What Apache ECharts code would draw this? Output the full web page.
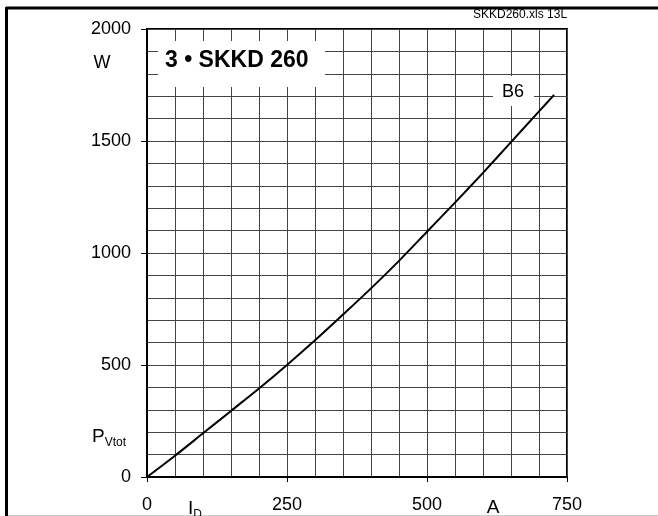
<!DOCTYPE html>
<html>
<head>
<meta charset="utf-8">
<script src="https://cdn.jsdelivr.net/npm/echarts@6/dist/echarts.min.js"></script>
<style>
html,body{margin:0;padding:0;background:#fff;}
#chart{width:658px;height:516px;}
</style>
</head>
<body>
<div id="chart"></div>
<script>
// Data
var currentA = [0, 50, 100, 150, 200, 250, 300, 350, 400, 450, 500, 550, 600, 650, 700, 727];
var powerW   = [0, 95, 195, 295, 395, 500, 610, 725, 842, 965, 1095, 1225, 1358, 1495, 1632, 1706];
var seriesName = 'B6';
var xTicks = [0, 250, 500, 750];
var yTicks = [0, 500, 1000, 1500, 2000];

var FONT = '"Liberation Sans", Arial, sans-serif';
var chart = echarts.init(document.getElementById('chart'), null, {renderer: 'canvas'});

var points = currentA.map(function (a, i) { return [a, powerW[i]]; });
function plain(v) { return String(v); }

chart.setOption({
  animation: false,
  backgroundColor: '#fff',
  grid: {
    left: 147, top: 29, width: 420, height: 448,
    show: true, borderColor: '#000', borderWidth: 2, backgroundColor: 'transparent'
  },
  xAxis: {
    type: 'value',
    min: xTicks[0], max: xTicks[xTicks.length - 1], interval: 250,
    axisLine: {show: true, lineStyle: {color: '#000', width: 2}},
    axisTick: {show: true, inside: false, length: 5, lineStyle: {color: '#000', width: 1}},
    axisLabel: {color: '#000', fontFamily: FONT, fontSize: 18, margin: 19, formatter: plain},
    splitLine: {show: true, lineStyle: {color: '#444', width: 1}},
    minorTick: {show: false, splitNumber: 5},
    minorSplitLine: {show: true, lineStyle: {color: '#444', width: 1}}
  },
  yAxis: {
    type: 'value',
    min: yTicks[0], max: yTicks[yTicks.length - 1], interval: 500,
    axisLine: {show: true, lineStyle: {color: '#000', width: 2}},
    axisTick: {show: true, inside: false, length: 6, lineStyle: {color: '#000', width: 1}},
    axisLabel: {color: '#000', fontFamily: FONT, fontSize: 18, margin: 16, formatter: plain},
    splitLine: {show: true, lineStyle: {color: '#444', width: 1}},
    minorTick: {show: false, splitNumber: 5},
    minorSplitLine: {show: true, lineStyle: {color: '#444', width: 1}}
  },
  series: [{
    name: seriesName,
    type: 'line',
    data: points,
    smooth: 0.3,
    showSymbol: false,
    lineStyle: {color: '#000', width: 2},
    z: 5
  }],
  graphic: [
    // outer frame
    {type: 'line', z: 100, shape: {x1: 6, y1: 8, x2: 658, y2: 8}, style: {stroke: '#000', lineWidth: 3}},
    {type: 'line', z: 100, shape: {x1: 6.5, y1: 7, x2: 6.5, y2: 516}, style: {stroke: '#000', lineWidth: 3}},
    {type: 'line', z: 100, shape: {x1: 8, y1: 515.5, x2: 658, y2: 515.5}, style: {stroke: '#ccc', lineWidth: 1}},
    // file tag
    {type: 'text', z: 100, left: 473, top: 9, style: {text: 'SKKD260.xls 13L', fill: '#000', font: '12px ' + FONT}},
    // title box
    {type: 'rect', z: 100, shape: {x: 158, y: 41, width: 167, height: 46}, style: {fill: '#fff'}},
    {type: 'text', z: 101, x: 165, y: 61, style: {text: '3 \u2022 SKKD 260', fill: '#000', font: 'bold 23px ' + FONT, textVerticalAlign: 'middle'}},
    // B6 label
    {type: 'rect', z: 100, shape: {x: 493, y: 76, width: 41, height: 30}, style: {fill: '#fff'}},
    {type: 'text', z: 101, x: 513, y: 92, style: {text: seriesName, fill: '#000', font: '18px ' + FONT, textAlign: 'center', textVerticalAlign: 'middle'}},
    // y unit and name
    {type: 'text', z: 100, x: 102, y: 63, style: {text: 'W', fill: '#000', font: '18px ' + FONT, textAlign: 'center', textVerticalAlign: 'middle'}},
    {type: 'text', z: 100, x: 92, y: 425, style: {
      text: '{a|P}{b|Vtot}',
      rich: {a: {fontSize: 19, fontFamily: FONT, fill: '#000'}, b: {fontSize: 12, fontFamily: FONT, fill: '#000', padding: [12, 0, 0, 0]}}
    }},
    // x name and unit
    {type: 'text', z: 100, x: 188, y: 497, style: {
      text: '{a|I}{b|D}',
      rich: {a: {fontSize: 19, fontFamily: FONT, fill: '#000'}, b: {fontSize: 12, fontFamily: FONT, fill: '#000', padding: [12, 0, 0, 0]}}
    }},
    {type: 'text', z: 100, x: 493, y: 508, style: {text: 'A', fill: '#000', font: '19px ' + FONT, textAlign: 'center', textVerticalAlign: 'middle'}}
  ]
});
</script>
</body>
</html>
